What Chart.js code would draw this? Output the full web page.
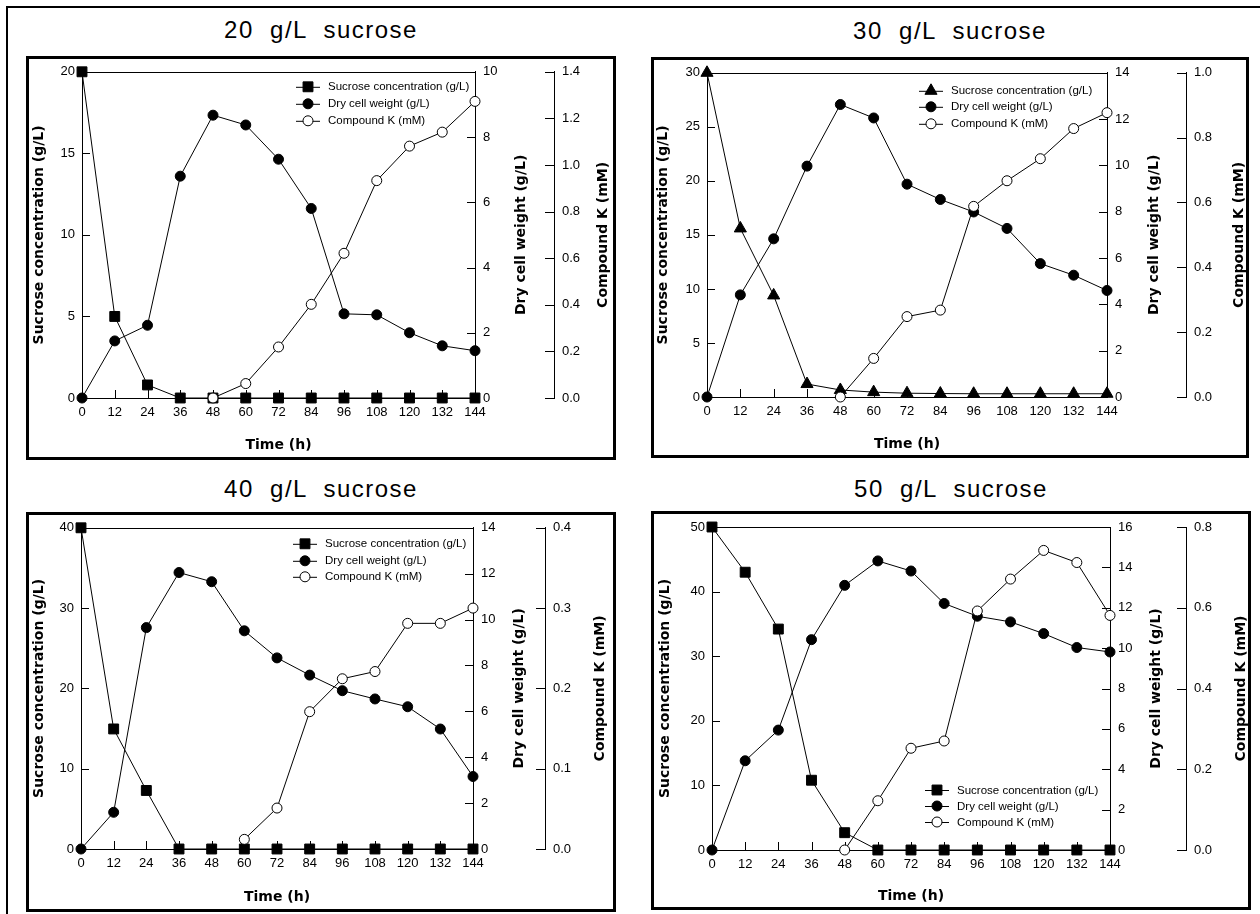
<!DOCTYPE html>
<html>
<head>
<meta charset="utf-8">
<script src="https://cdn.jsdelivr.net/npm/chart.js@4.4.1/dist/chart.umd.min.js"></script>
<style>
  body { margin: 0; background: #fff; width: 1260px; height: 914px; position: relative; overflow: hidden; }
  .edge { position: absolute; background: #000; }
  .box { position: absolute; border: 3px solid #000; box-sizing: border-box; }
  .title { position: absolute; text-align: center; white-space: pre; font: 24px/24px "Liberation Sans", Arial, sans-serif; letter-spacing: 1.5px; color: #000; }
  canvas { position: absolute; }
</style>
</head>
<body>
<div class="edge" style="left:6px;top:6px;width:2px;height:908px"></div>
<div class="edge" style="left:6px;top:6px;width:1254px;height:2px"></div>

<script>
// Datos (tiempo en h)
const hours = [0, 12, 24, 36, 48, 60, 72, 84, 96, 108, 120, 132, 144];

const sucrose20 = [20, 5, 0.8, 0, 0, 0, 0, 0, 0, 0, 0, 0, 0];
const dcw20     = [0, 1.75, 2.23, 6.8, 8.67, 8.37, 7.32, 5.81, 2.58, 2.55, 2.0, 1.6, 1.45];
const ck20      = [null, null, null, null, 0, 0.062, 0.219, 0.402, 0.621, 0.933, 1.081, 1.141, 1.273];

const sucrose30 = [30, 15.6, 9.4, 1.2, 0.65, 0.45, 0.35, 0.32, 0.3, 0.3, 0.3, 0.3, 0.3];
const dcw30     = [0, 4.41, 6.83, 9.97, 12.63, 12.05, 9.19, 8.53, 7.99, 7.28, 5.76, 5.26, 4.6];
const ck30      = [null, null, null, null, 0, 0.119, 0.248, 0.268, 0.588, 0.667, 0.735, 0.828, 0.877];

const sucrose40 = [40, 14.95, 7.29, 0, 0, 0, 0, 0, 0, 0, 0, 0, 0];
const dcw40     = [0, 1.6, 9.65, 12.05, 11.65, 9.51, 8.33, 7.58, 6.9, 6.54, 6.2, 5.23, 3.16];
const ck40      = [null, null, null, null, null, 0.012, 0.051, 0.171, 0.212, 0.221, 0.281, 0.281, 0.3];

const sucrose50 = [50, 43, 34.2, 10.8, 2.68, 0, 0, 0, 0, 0, 0, 0, 0];
const dcw50     = [0, 4.42, 5.94, 10.42, 13.11, 14.32, 13.82, 12.21, 11.58, 11.3, 10.72, 10.03, 9.81];
const ck50      = [null, null, null, null, 0, 0.122, 0.252, 0.27, 0.592, 0.671, 0.742, 0.712, 0.581];

const titles     = ['20  g/L  sucrose', '30  g/L  sucrose', '40  g/L  sucrose', '50  g/L  sucrose'];
const sucroseMax = [20, 30, 40, 50];
const sucroseStep = [5, 5, 10, 10];
const dcwMax     = [10, 14, 14, 16];
const ckMax      = [1.4, 1.0, 0.4, 0.8];
const ckStep     = [0.2, 0.2, 0.1, 0.2];

// Geometría de cada panel (coordenadas del canvas)
const layout = [
  { box: [26, 56, 590, 404], plot: [56, 10, 449, 342], y1w: 79, tx: [-43, 46, 49], timeY: 47, leg: { top: true,  rows: [15, 32, 49],    mx: -167 }, tTop: 18,  sym: 'rect' },
  { box: [651, 57, 598, 401], plot: [56, 10, 456, 340], y1w: 79, tx: [-44, 47, 53], timeY: 47, leg: { top: true,  rows: [18, 34, 51],    mx: -176 }, tTop: 19,  sym: 'triangle' },
  { box: [26, 512, 590, 400], plot: [55, 10, 447, 337], y1w: 72, tx: [-42, 46, 55], timeY: 48, leg: { top: true,  rows: [16, 33, 49],    mx: -168 }, tTop: 477, sym: 'rect' },
  { box: [651, 511, 600, 399], plot: [61, 16, 459, 339], y1w: 76, tx: [-47, 46, 55], timeY: 46, leg: { top: false, rows: [-60, -44, -28], mx: -173 }, tTop: 477, sym: 'rect' },
];
const series = [
  [sucrose20, dcw20, ck20],
  [sucrose30, dcw30, ck30],
  [sucrose40, dcw40, ck40],
  [sucrose50, dcw50, ck50],
];

const BLACK = '#000';
const TICK_FONT = { family: "'Liberation Sans', Arial, sans-serif", size: 13 };
const BOLD = 'bold 14px "DejaVu Sans", Verdana, sans-serif';

function marker(ctx, style, r, fill, x, y) {
  ctx.beginPath();
  if (style === 'rect') {
    const s = r * Math.SQRT1_2;
    ctx.rect(x - s, y - s, 2 * s, 2 * s);
  } else if (style === 'triangle') {
    ctx.moveTo(x, y - r);
    ctx.lineTo(x + r * 0.866, y + r / 2);
    ctx.lineTo(x - r * 0.866, y + r / 2);
    ctx.closePath();
  } else {
    ctx.arc(x, y, r, 0, Math.PI * 2);
  }
  ctx.fillStyle = fill; ctx.fill();
  ctx.strokeStyle = BLACK; ctx.lineWidth = 1; ctx.stroke();
}

// marco, marcas hacia dentro, títulos de ejes y leyenda
const decor = {
  id: 'decor',
  beforeDatasetsDraw(chart, args, o) {
    const { ctx, chartArea: a, scales } = chart;
    const px = v => Math.round(v) + 0.5;
    ctx.save();
    ctx.strokeStyle = BLACK;
    ctx.lineWidth = 1;
    ctx.beginPath();
    ctx.moveTo(a.left, px(a.top)); ctx.lineTo(a.right, px(a.top));
    scales.x.ticks.forEach(t => { const x = px(scales.x.getPixelForValue(t.value)); ctx.moveTo(x, a.bottom); ctx.lineTo(x, a.bottom - 8); });
    scales.y.ticks.forEach(t => { const y = px(scales.y.getPixelForValue(t.value)); ctx.moveTo(a.left, y); ctx.lineTo(a.left + 8, y); });
    scales.y1.ticks.forEach(t => { const y = px(scales.y1.getPixelForValue(t.value)); ctx.moveTo(a.right, y); ctx.lineTo(a.right - 8, y); });
    const x2 = scales.y2.left;
    scales.y2.ticks.forEach(t => { const y = px(scales.y2.getPixelForValue(t.value)); ctx.moveTo(x2, y); ctx.lineTo(x2 - 9, y); });
    ctx.stroke();

    ctx.fillStyle = BLACK;
    ctx.font = BOLD;
    ctx.textAlign = 'center';
    ctx.textBaseline = 'middle';
    ctx.fillText('Time (h)', (a.left + a.right) / 2, a.bottom + o.timeY);
    const midY = (a.top + a.bottom) / 2;
    [[a.left + o.tx[0], 'Sucrose concentration (g/L)'],
     [a.right + o.tx[1], 'Dry cell weight (g/L)'],
     [x2 + o.tx[2], 'Compound K (mM)']].forEach(([x, txt]) => {
      ctx.save();
      ctx.translate(x, midY);
      ctx.rotate(-Math.PI / 2);
      ctx.fillText(txt, 0, 0);
      ctx.restore();
    });
    ctx.restore();
  },
  afterDatasetsDraw(chart, args, o) {
    const { ctx, chartArea: a } = chart;
    ctx.save();
    ctx.font = '11.5px "Liberation Sans", Arial, sans-serif';
    ctx.textBaseline = 'middle';
    ctx.textAlign = 'left';
    [2, 1, 0].forEach((di, row) => {
      const ds = chart.data.datasets[di];
      const y = (o.leg.top ? a.top : a.bottom) + o.leg.rows[row];
      const mx = a.right + o.leg.mx;
      ctx.strokeStyle = BLACK; ctx.lineWidth = 1;
      ctx.beginPath(); ctx.moveTo(mx - 12, y + 0.5); ctx.lineTo(mx + 12, y + 0.5); ctx.stroke();
      marker(ctx, ds.pointStyle, ds.pointRadius, ds.pointBackgroundColor, mx, y);
      ctx.fillStyle = BLACK;
      ctx.fillText(ds.label, mx + 20, y + 0.5);
    });
    ctx.restore();
  }
};

function dataset(label, values, axis, style, fill) {
  return {
    label,
    data: hours.map((h, i) => ({ x: h, y: values[i] })),
    yAxisID: axis,
    borderColor: BLACK, borderWidth: 1,
    pointStyle: style, pointRadius: style === 'circle' ? 5 : 7,
    pointBackgroundColor: fill, pointBorderColor: BLACK, pointBorderWidth: 1,
    clip: false, spanGaps: false,
  };
}

function yAxis(pos, max, step, width, pad, weight, fmt) {
  return {
    type: 'linear', position: pos, min: 0, max, weight,
    grid: { display: false, drawTicks: false },
    border: { display: true, color: BLACK, width: 1 },
    ticks: { stepSize: step, color: BLACK, font: TICK_FONT, padding: pad, callback: fmt || (v => v) },
    afterFit: s => { s.width = width; }
  };
}

layout.forEach((g, i) => {
  const [bx, by, bw, bh] = g.box;
  const [pl, pt, pr, pb] = g.plot;

  const box = document.createElement('div');
  box.className = 'box';
  box.style.cssText = `left:${bx}px;top:${by}px;width:${bw}px;height:${bh}px`;
  document.body.appendChild(box);

  const t = document.createElement('div');
  t.className = 'title';
  t.style.cssText = `left:${bx}px;top:${g.tTop}px;width:${bw}px`;
  t.textContent = titles[i];
  document.body.appendChild(t);

  const cv = document.createElement('canvas');
  cv.width = bw; cv.height = bh;
  cv.style.cssText = `left:${bx}px;top:${by}px;width:${bw}px;height:${bh}px`;
  document.body.appendChild(cv);

  const [suc, dcw, ck] = series[i];
  new Chart(cv.getContext('2d'), {
    type: 'line',
    data: { datasets: [
      dataset('Compound K (mM)', ck, 'y2', 'circle', '#fff'),
      dataset('Dry cell weight (g/L)', dcw, 'y1', 'circle', BLACK),
      dataset('Sucrose concentration (g/L)', suc, 'y', g.sym, BLACK),
    ]},
    options: {
      responsive: false, animation: false, devicePixelRatio: 1,
      layout: { padding: { top: pt, left: 0, right: 0, bottom: 0 } },
      plugins: { legend: { display: false }, tooltip: { enabled: false }, decor: g },
      scales: {
        x: {
          type: 'linear', min: 0, max: 144,
          grid: { display: false, drawTicks: false },
          border: { display: true, color: BLACK, width: 1 },
          ticks: { stepSize: 12, color: BLACK, font: TICK_FONT, padding: 7, maxRotation: 0 },
          afterFit: s => { s.height = bh - pb; }
        },
        y: yAxis('left', sucroseMax[i], sucroseStep[i], pl, 7, 0),
        y1: yAxis('right', dcwMax[i], 2, g.y1w, 8, 0),
        y2: yAxis('right', ckMax[i], ckStep[i], bw - pr - g.y1w, 8, 1, v => v.toFixed(1)),
      }
    },
    plugins: [decor]
  });
});
</script>
</body>
</html>
